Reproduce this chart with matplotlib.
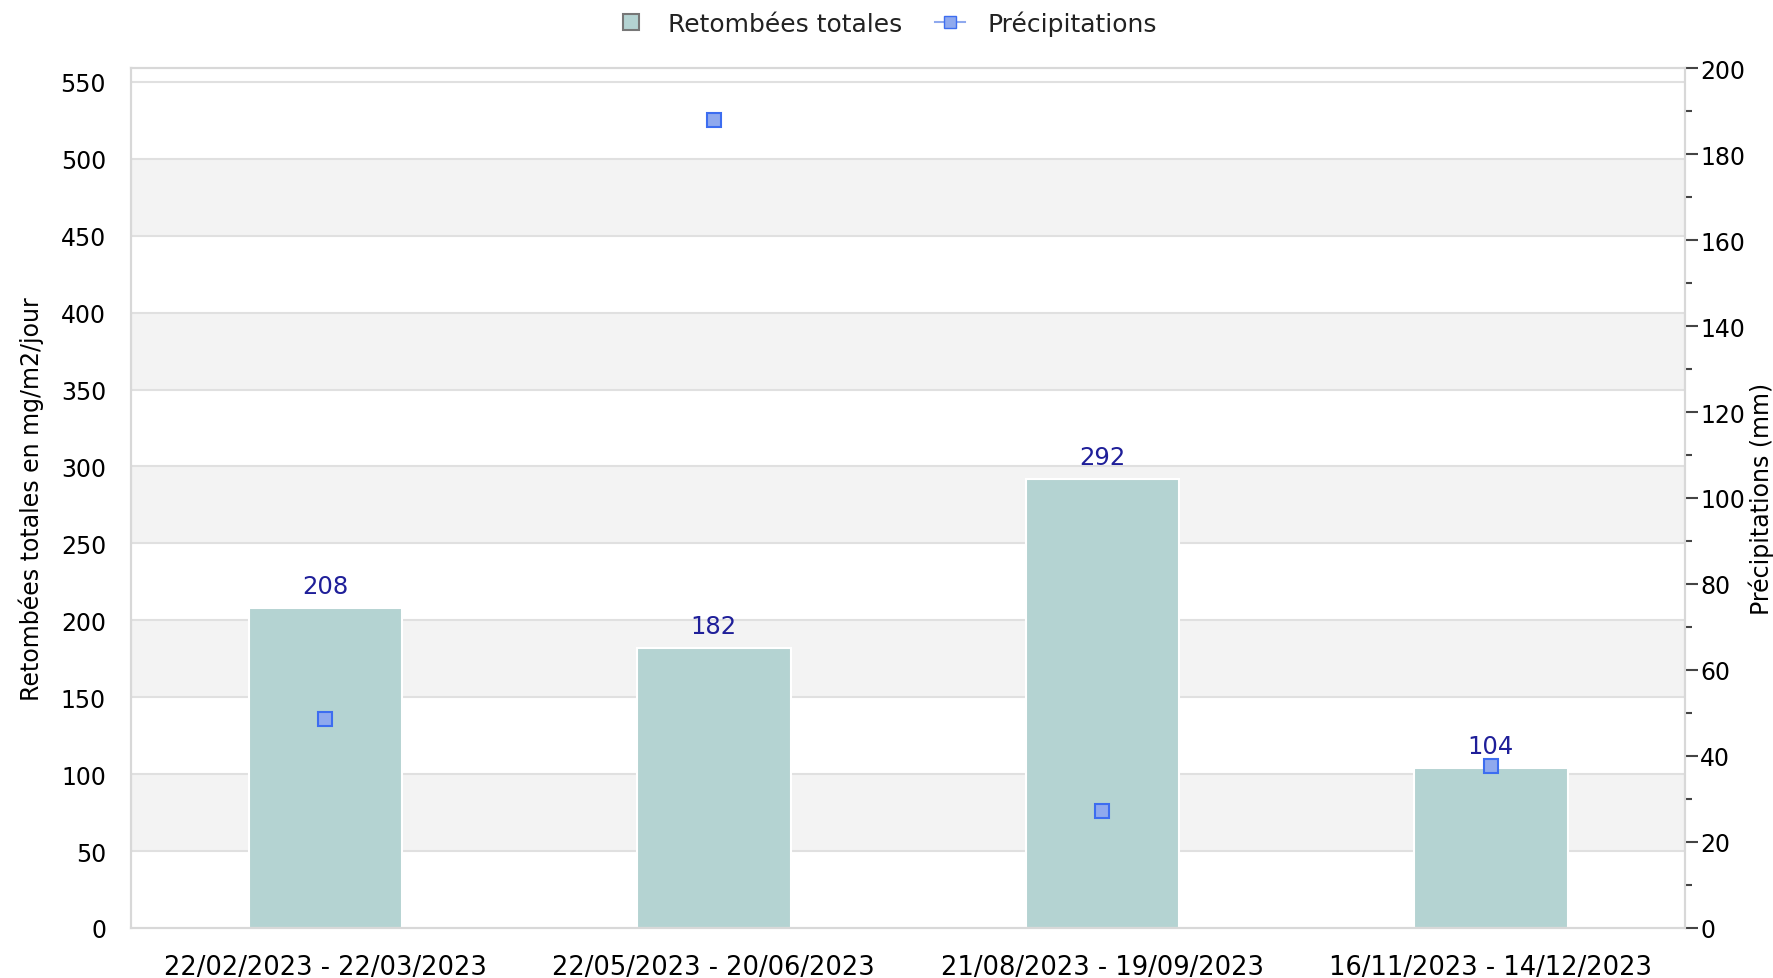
import matplotlib
matplotlib.use("Agg")
import matplotlib.pyplot as plt
from matplotlib.lines import Line2D
from matplotlib.ticker import MultipleLocator

periods = ["22/02/2023 - 22/03/2023", "22/05/2023 - 20/06/2023",
           "21/08/2023 - 19/09/2023", "16/11/2023 - 14/12/2023"]
retombees = [208, 182, 292, 104]
precip = [48.7, 187.8, 27.1, 37.7]

plt.rcParams.update({
    "font.family": ["DejaVu Sans"],
    "font.size": 17,
    "text.color": "#222222",
})

BAR = "#b4d3d2"
GRID = "#e0e0e0"
BAND = "#f3f3f3"

fig = plt.figure(figsize=(17.73, 9.79), dpi=100)
ax = fig.add_axes([0.0739, 0.0511, 0.8765, 0.8784])
ax2 = ax.twinx()

ax.set_xlim(-0.5, 3.5)
ax.set_ylim(0, 559)
ax2.set_ylim(0, 200)

# alternating bands + grid lines
for lo in range(50, 550, 100):
    ax.axhspan(lo, lo + 50, color=BAND, lw=0, zorder=0)
for v in range(50, 600, 50):
    ax.axhline(v, color=GRID, lw=1.5, zorder=0.5)

x = range(len(periods))
ax.bar(x, retombees, width=0.395, color=BAR, edgecolor="white",
       lw=1.5, zorder=2)
for xi, v in zip(x, retombees):
    ax.annotate(f"{v}", (xi, v), xytext=(0, 7), textcoords="offset points",
                ha="center", va="bottom", color="#1f1f99", fontsize=17.5)

ax2.plot(list(x), precip, ls="none", marker="s", ms=10.5,
         mfc="#8fa9ee", mec="#3d6df0", mew=1.5, zorder=5)

ax.set_xticks(list(x))
ax.set_xticklabels(periods, fontsize=18.5)
ax.set_yticks(range(0, 551, 50))
ax.tick_params(axis="y", length=0, pad=18)
ax.tick_params(axis="x", length=0, pad=19)
ax.set_ylabel("Retombées totales en mg/m2/jour", labelpad=12)

ax2.yaxis.set_major_locator(MultipleLocator(20))
ax2.yaxis.set_minor_locator(MultipleLocator(10))
ax2.tick_params(axis="y", which="major", length=9, width=1.5,
                color="#444444", pad=2)
ax2.tick_params(axis="y", which="minor", length=5, width=1.5,
                color="#444444")
ax2.set_ylabel("Précipitations (mm)", labelpad=2)

for a in (ax, ax2):
    for s in a.spines.values():
        s.set_color("#d8d8d8")
        s.set_linewidth(1.5)
ax.set_zorder(ax2.get_zorder() - 1)
ax2.patch.set_visible(False)

handles = [
    Line2D([0], [0], ls="none", marker="s", ms=12,
           mfc=BAR, mec="#777777", mew=1.5),
    Line2D([0], [0], color="#8fa9ee", lw=1.5, marker="s", ms=9,
           mfc="#8fa9ee", mec="#3d6df0"),
]
fig.legend(handles, ["Retombées totales", "Précipitations"],
           loc="center", bbox_to_anchor=(0.5, 0.975), ncol=2,
           frameon=False, fontsize=18, handlelength=1.2,
           columnspacing=1.3, handletextpad=0.9)

fig.savefig("out.png", dpi=100)
